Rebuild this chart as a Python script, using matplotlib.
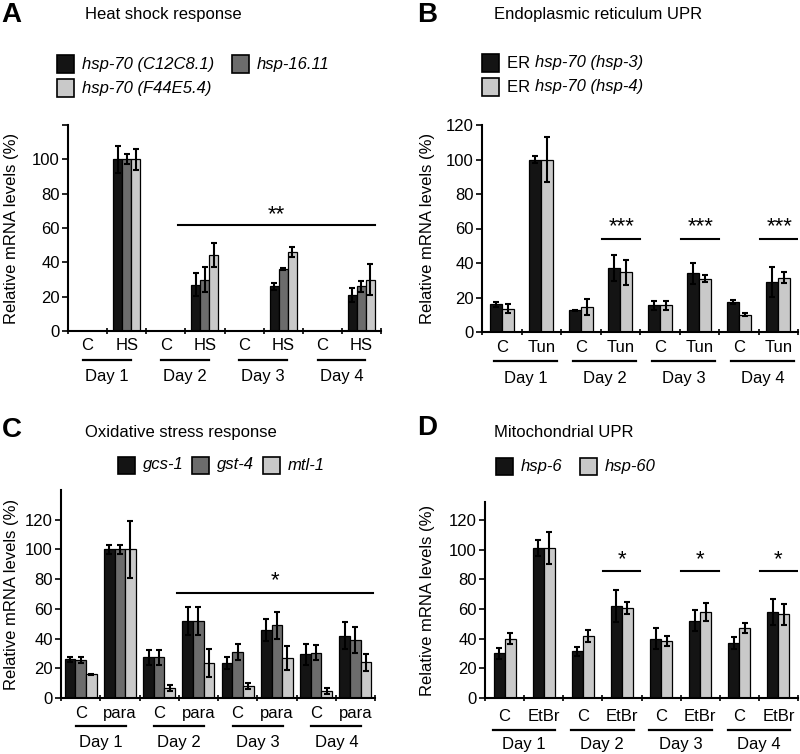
import matplotlib
matplotlib.use("Agg")
import matplotlib.pyplot as plt
import numpy as np
from matplotlib.patches import Rectangle

plt.rcParams['font.family'] = ['Liberation Sans', 'DejaVu Sans']
plt.rcParams['font.size'] = 12

nan = np.nan
days = ['Day 1', 'Day 2', 'Day 3', 'Day 4']

# --- A: heat shock ---
a_conds = ['C', 'HS'] * 4
a_c12 = [nan, 100, nan, 27, nan, 26, nan, 21]
a_c12_err = [nan, 8, nan, 6.5, nan, 2, nan, 4]
a_h16 = [nan, 100, nan, 30, nan, 36, nan, 26]
a_h16_err = [nan, 3, nan, 7, nan, 0.5, nan, 3]
a_f44 = [nan, 100, nan, 44, nan, 46, nan, 30]
a_f44_err = [nan, 6, nan, 7, nan, 3, nan, 9]

# --- B: ER UPR ---
b_conds = ['C', 'Tun'] * 4
b_hsp3 = [16, 100, 12.5, 37, 15.5, 34, 17.5, 29]
b_hsp3_err = [1.5, 2, 0.5, 7.5, 2.5, 6, 1, 8.5]
b_hsp4 = [13.5, 100, 14.5, 34.5, 15.5, 31, 10, 31.5]
b_hsp4_err = [2.5, 13, 4.5, 7.5, 2.5, 2, 1, 3]

# --- C: oxidative stress ---
c_conds = ['C', 'para'] * 4
c_gcs = [26, 100, 27.5, 52, 23.5, 46, 29.5, 42]
c_gcs_err = [1.5, 3, 5, 9.5, 4, 7.5, 7, 9]
c_gst = [25.5, 100, 27.5, 52, 31, 49, 30.5, 39]
c_gst_err = [2, 3, 5, 9.5, 5.5, 9, 5, 9]
c_mtl = [16, 100, 7, 23.5, 8, 27, 5, 24]
c_mtl_err = [0.3, 19, 2, 9.5, 2, 8, 2, 5.5]

# --- D: mitochondrial UPR ---
d_conds = ['C', 'EtBr'] * 4
d_hsp6 = [30, 101, 31.5, 62, 40, 52, 37, 58]
d_hsp6_err = [3.5, 5.5, 3, 11, 7, 7, 4, 9]
d_hsp60 = [40, 101, 42, 60.5, 38.5, 58, 47, 56.5]
d_hsp60_err = [3.5, 11, 4, 4, 3.5, 6, 3.5, 7]

BLACK = '#141414'
DGRAY = '#6c6c6c'
LGRAY = '#c9c9c9'

W, H = 800, 754
fig = plt.figure(figsize=(8, 7.54), dpi=100)


def px_axes(l, r, b, t):
    return fig.add_axes([l / W, 1 - b / H, (r - l) / W, (b - t) / H])


def bars(ax, series, errs, colors, width):
    n = len(series)
    x = np.arange(8)
    for i, (vals, err, col) in enumerate(zip(series, errs, colors)):
        off = (i - (n - 1) / 2) * width
        ax.bar(x + off, vals, width, color=col, edgecolor='black', linewidth=0.9, zorder=2)
        ax.errorbar(x + off, vals, yerr=err, fmt='none', ecolor='black',
                    elinewidth=1.5, capsize=2.2, capthick=1.5, zorder=3)


def style(ax, conds, ymax, yticks, top_tick, lab_x, tick_pad, day_line, day_span, day_text):
    ax.set_xlim(-0.5, 7.5)
    ax.set_ylim(0, ymax)
    for s in ['top', 'right']:
        ax.spines[s].set_visible(False)
    for s in ['left', 'bottom']:
        ax.spines[s].set_linewidth(1.5)
    ticks = list(yticks) + ([ymax] if top_tick else [])
    ax.set_yticks(ticks)
    ax.set_yticklabels([str(t) for t in yticks] + ([''] if top_tick else []))
    ax.tick_params(axis='y', length=4, width=1.2, pad=2, labelsize=12)
    ax.set_xticks(np.arange(8))
    ax.set_xticklabels(conds)
    ax.tick_params(axis='x', which='major', length=0, pad=tick_pad, labelsize=12)
    ax.set_xticks(np.arange(-0.5, 8, 1), minor=True)
    ax.tick_params(axis='x', which='minor', length=4, width=1.2, direction='inout')
    ax.set_ylabel('Relative mRNA levels (%)', fontsize=12)
    ax.yaxis.set_label_coords(lab_x, 0.5)
    hpx = ax.get_position().height * H
    tr = ax.get_xaxis_transform()
    for d, name in enumerate(days):
        x0 = 2 * d + day_span[0]
        x1 = 2 * d + day_span[1]
        ax.plot([x0, x1], [-day_line / hpx] * 2, color='black', lw=1.6,
                transform=tr, clip_on=False)
        ax.text((x0 + x1) / 2, -day_text / hpx, name, transform=tr,
                ha='center', va='center', fontsize=12)


def sig(ax, x0, x1, y, stars, sy):
    ax.plot([x0, x1], [y, y], color='black', lw=1.5, zorder=4)
    ax.text((x0 + x1) / 2, sy, stars, ha='center', va='center', fontsize=16)


def legend(items, size=12):
    # items: (x_square, y_center, color, [(text, italic), ...])
    for xs, yc, col, parts in items:
        fig.patches.append(Rectangle((xs / W, 1 - (yc + 8.5) / H), 17 / W, 17 / H,
                                     transform=fig.transFigure, facecolor=col,
                                     edgecolor='black', linewidth=1.2))
        x = xs + 25
        for txt, it in parts:
            t = fig.text(x / W, 1 - yc / H, txt, ha='left', va='center', fontsize=size,
                         style='italic' if it else 'normal')
            fig.canvas.draw()
            bb = t.get_window_extent()
            x = x + bb.width


def header(x, y, letter, lx, lbase, title):
    fig.text(lx / W, 1 - lbase / H, letter, fontsize=20, fontweight='bold',
             ha='left', va='baseline')
    fig.text(x / W, 1 - y / H, title, fontsize=12, ha='left', va='center')


# Panel A
axA = px_axes(68, 381, 331, 125)
bars(axA, [a_c12, a_h16, a_f44], [a_c12_err, a_h16_err, a_f44_err], [BLACK, DGRAY, LGRAY], 0.23)
style(axA, a_conds, 120, range(0, 101, 20), True, -0.155, 5, 29, (-0.12, 1.1), 46)
sig(axA, 2.3, 7.35, 61.5, '**', 68)
header(85, 15, 'A', 1, 22, 'Heat shock response')
legend([(57, 64, BLACK, [('hsp-70 (C12C8.1)', True)]),
        (232, 64, DGRAY, [('hsp-16.11', True)]),
        (57, 88, LGRAY, [('hsp-70 (F44E5.4)', True)])])

# Panel B
axB = px_axes(482, 798, 332, 125)
bars(axB, [b_hsp3, b_hsp4], [b_hsp3_err, b_hsp4_err], [BLACK, LGRAY], 0.3)
style(axB, b_conds, 120, range(0, 121, 20), False, -0.15, 6, 29, (-0.2, 1.4), 46)
for c in [3, 5, 7]:
    sig(axB, c - 0.45, c + 0.5, 54, '***', 61)
header(494, 15, 'B', 417, 22, 'Endoplasmic reticulum UPR')
legend([(482, 63, BLACK, [('ER ', False), ('hsp-70 (hsp-3)', True)]),
        (482, 87, LGRAY, [('ER ', False), ('hsp-70 (hsp-4)', True)])])

# Panel C
axC = px_axes(61, 375, 698, 490)
bars(axC, [c_gcs, c_gst, c_mtl], [c_gcs_err, c_gst_err, c_mtl_err], [BLACK, DGRAY, LGRAY], 0.27)
style(axC, c_conds, 140, range(0, 121, 20), False, -0.133, 6, 28, (-0.12, 1.15), 45)
sig(axC, 2.46, 7.45, 70.5, '*', 79)
header(85, 432, 'C', 2, 437, 'Oxidative stress response')
legend([(118, 465, BLACK, [('gcs-1', True)]),
        (192, 465, DGRAY, [('gst-4', True)]),
        (263, 465, LGRAY, [('mtl-1', True)])])

# Panel D
axD = px_axes(485, 798, 698, 502)
bars(axD, [d_hsp6, d_hsp60], [d_hsp6_err, d_hsp60_err], [BLACK, LGRAY], 0.28)
style(axD, d_conds, 132, range(0, 121, 20), False, -0.16, 8, 32, (-0.3, 1.3), 46)
for c in [3, 5, 7]:
    sig(axD, c - 0.48, c + 0.47, 85.5, '*', 93)
header(494, 432, 'D', 417, 435, 'Mitochondrial UPR')
legend([(496, 466, BLACK, [('hsp-6', True)]),
        (580, 466, LGRAY, [('hsp-60', True)])])

fig.savefig('out.png', dpi=100)
